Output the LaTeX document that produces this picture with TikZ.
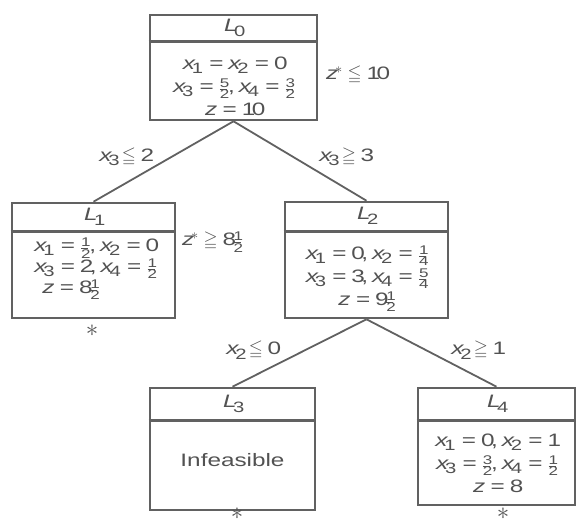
\documentclass[tikz,border=0pt]{standalone}
\usepackage{amssymb}
\usepackage[no-math]{fontspec}
\setmainfont[FakeStretch=1.35]{Liberation Sans}
\usepackage[italic]{mathastext}
\usepackage{tikz}
\usetikzlibrary{calc}
\thickmuskip=9mu plus 2mu
\newcommand\fr[2]{{\scriptscriptstyle\frac{#1}{#2}}}
\newcommand\lessq{\mskip5mu{\leqq}\mskip5mu}
\newcommand\moreq{\mskip5mu{\geqq}\mskip5mu}

\begin{document}
\begin{tikzpicture}[x=1pt, y=-1pt,
    lpbox/.style={draw=black!62, line width=2.6pt, inner sep=0pt},
    lptext/.style={text=black!68, font=\fontsize{18}{23}\selectfont, align=center, inner sep=1pt},
    starmark/.style={text=black!68, font=\fontsize{24}{24}\selectfont, inner sep=0pt, anchor=base},
    branch/.style={draw=black!62, line width=1.8pt}]
  \useasboundingbox (0,0) rectangle (579,519);

  % Root problem L0
  \node[lpbox, minimum width=167pt, minimum height=105pt] (L0) at (233.5,67.5) {};
  \draw[lpbox] ($(L0.north west)+(0,28)$) -- ($(L0.north east)+(0,28)$);
  \node[lptext] (t0) at ($(L0.north)+(0,14)$) {$L_0$};
  \node[lptext] (c0) at (233.5,86) {$x_1 = x_2 = 0$\\ $x_3 = \fr{5}{2},\, x_4 = \fr{3}{2}$\\ $z = 10$};
  \node[lptext, anchor=west] (zL0) at (325,75) {$z^*\lessq 10$};

  % Left branch L1
  \node[lpbox, minimum width=163pt, minimum height=115pt] (L1) at (93.5,260.5) {};
  \draw[lpbox] ($(L1.north west)+(0,30)$) -- ($(L1.north east)+(0,30)$);
  \node[lptext] (t1) at ($(L1.north)+(0,15)$) {$L_1$};
  \node[lptext, align=left, font=\fontsize{18}{19}\selectfont] (c1) at (95,269) {$x_1 = \fr{1}{2},\, x_2 = 0$\\ $x_3 = 2,\, x_4 = \fr{1}{2}$\\ \hspace*{8pt}$z = 8\fr{1}{2}$};
  \node[lptext, anchor=west] (zL1) at (181,242) {$z^*\moreq 8\fr{1}{2}$};
  \node[starmark] (a1) at (92,336) {$\ast$};

  % Right branch L2
  \node[lpbox, minimum width=163pt, minimum height=116pt] (L2) at (366.5,260) {};
  \draw[lpbox] ($(L2.north west)+(0,31)$) -- ($(L2.north east)+(0,31)$);
  \node[lptext] (t2) at ($(L2.north)+(0,15)$) {$L_2$};
  \node[lptext] (c2) at (366.5,279) {$x_1 = 0,\, x_2 = \fr{1}{4}$\\ $x_3 = 3,\, x_4 = \fr{5}{4}$\\ $z = 9\fr{1}{2}$};

  % Infeasible L3
  \node[lpbox, minimum width=165pt, minimum height=122pt] (L3) at (232.5,449) {};
  \draw[lpbox] ($(L3.north west)+(0,34)$) -- ($(L3.north east)+(0,34)$);
  \node[lptext] (t3) at ($(L3.north)+(0,17)$) {$L_3$};
  \node[lptext] (c3) at (232.5,460) {Infeasible};
  \node[starmark] (a3) at (237,519) {$\ast$};

  % Integer solution L4
  \node[lpbox, minimum width=157pt, minimum height=117pt] (L4) at (496.5,446.5) {};
  \draw[lpbox] ($(L4.north west)+(0,34)$) -- ($(L4.north east)+(0,34)$);
  \node[lptext] (t4) at ($(L4.north)+(0,17)$) {$L_4$};
  \node[lptext] (c4) at (496.5,463) {$x_1 = 0,\, x_2 = 1$\\ $x_3 = \fr{3}{2},\, x_4 = \fr{1}{2}$\\ $z = 8$};
  \node[starmark] (a4) at (503,519) {$\ast$};

  % Branching on x3 and x2
  \draw[branch] (L0.south) -- (L1.north);
  \draw[branch] (L0.south) -- (L2.north);
  \draw[branch] (L2.south) -- (L3.north);
  \draw[branch] (L2.south) -- (L4.north);
  \node[lptext] (b1) at (125,157) {$x_3\lessq 2$};
  \node[lptext] (b2) at (345,157) {$x_3\moreq 3$};
  \node[lptext] (b3) at (252,350) {$x_2\lessq 0$};
  \node[lptext] (b4) at (477,350) {$x_2\moreq 1$};
\end{tikzpicture}
\end{document}
